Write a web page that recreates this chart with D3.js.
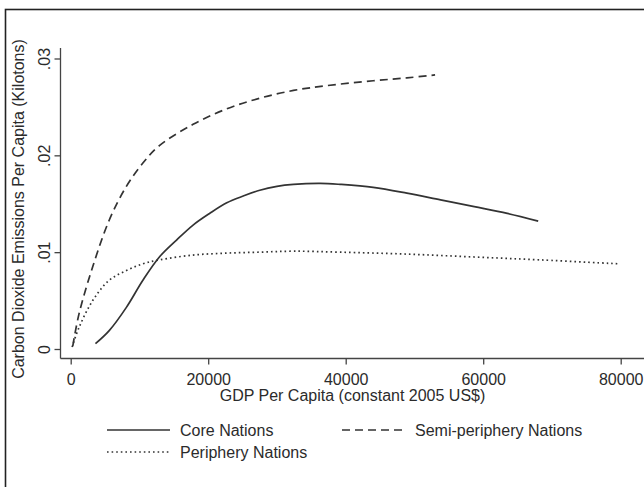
<!DOCTYPE html>
<html lang="en">
<head>
<meta charset="utf-8">
<script type="text/javascript" src="https://cdnjs.cloudflare.com/ajax/libs/d3/7.8.5/d3.min.js"></script>
<style>
    body { margin: 0; background: #fff; }
    text { font-family: "Liberation Sans", Arial, sans-serif; fill: #2b2b2b; }
</style>
</head>
<body>
<div id="container"></div>
<script type="text/javascript">
    var w = 644;
    var h = 487;

    // fitted curves
    var coreGdp = [3600, 5600, 8100, 10500, 12900, 15400, 17800, 20200, 22700, 25100, 27500, 30000, 32400, 36300, 39200, 44000, 48900, 53800, 58700, 63500, 68000];
    var coreVal = [0.00055, 0.0019, 0.0043, 0.0071, 0.0095, 0.01125, 0.0128, 0.0140, 0.0151, 0.0158, 0.0164, 0.0168, 0.0170, 0.0171, 0.0170, 0.0167, 0.0161, 0.0154, 0.0147, 0.0140, 0.0132];

    var semiGdp = [300, 1200, 3200, 5600, 8100, 10500, 12900, 17800, 22700, 27500, 32400, 37300, 44000, 48900, 53000];
    var semiVal = [0.0003, 0.0036, 0.0085, 0.0133, 0.0168, 0.0192, 0.0210, 0.0232, 0.0248, 0.0259, 0.0267, 0.0272, 0.0277, 0.0280, 0.0283];

    var periGdp = [200, 1200, 3200, 5600, 8100, 10500, 12900, 17800, 22700, 27500, 32400, 39200, 48900, 58700, 68400, 79600];
    var periVal = [0.0002, 0.0022, 0.0050, 0.0071, 0.0081, 0.0088, 0.0092, 0.0097, 0.0099, 0.0100, 0.0101, 0.0100, 0.0098, 0.0095, 0.0092, 0.0088];

    var xTicks = [0, 20000, 40000, 60000, 80000];
    var yTicks = [0, 0.01, 0.02, 0.03];
    var yTickLabels = ["0", ".01", ".02", ".03"];

    var seriesNames = ["Core Nations", "Semi-periphery Nations", "Periphery Nations"];
    var dashes = ["none", "8,5", "1.6,3"];

    var svg = d3.select("#container")
                .append("svg")
                .attr("width", w)
                .attr("height", h);

    // outer frame (cut off on right and bottom)
    svg.append("rect")
        .attr("x", 5.5).attr("y", 9.5)
        .attr("width", 700).attr("height", 600)
        .attr("fill", "none")
        .attr("stroke", "#222")
        .attr("stroke-width", 1.6);

    var xscale = d3.scaleLinear().domain([0, 80000]).range([70.7, 620.7]);
    var yscale = d3.scaleLinear().domain([0, 0.03]).range([349, 58.5]);

    var axisLeft = 60.5, axisBottom = 358.5;

    // axis lines
    svg.append("line")
        .attr("x1", axisLeft).attr("x2", axisLeft)
        .attr("y1", 48).attr("y2", axisBottom)
        .attr("stroke", "#444").attr("stroke-width", 1.3);
    svg.append("line")
        .attr("x1", axisLeft).attr("x2", 650)
        .attr("y1", axisBottom).attr("y2", axisBottom)
        .attr("stroke", "#444").attr("stroke-width", 1.3);

    var yAxis = svg.append("g")
        .attr("transform", "translate(" + axisLeft + ",0)")
        .call(d3.axisLeft(yscale)
            .tickValues(yTicks)
            .tickSize(6)
            .tickSizeOuter(0)
            .tickFormat(function(d, i) { return yTickLabels[i]; }));
    yAxis.select(".domain").remove();
    yAxis.selectAll("line").attr("stroke", "#444").attr("stroke-width", 1.3);
    yAxis.selectAll("text")
        .attr("x", 0).attr("dy", 0)
        .attr("transform", "translate(-11,0) rotate(-90)")
        .attr("text-anchor", "middle")
        .attr("font-size", 16)
        .attr("font-family", null)
        .style("fill", "#2b2b2b");

    var xAxis = svg.append("g")
        .attr("transform", "translate(0," + axisBottom + ")")
        .call(d3.axisBottom(xscale)
            .tickValues(xTicks)
            .tickSize(6)
            .tickSizeOuter(0)
            .tickFormat(d3.format("d")));
    xAxis.select(".domain").remove();
    xAxis.selectAll("line").attr("stroke", "#444").attr("stroke-width", 1.3);
    xAxis.selectAll("text")
        .attr("y", 26).attr("dy", 0)
        .attr("font-size", 16)
        .attr("font-family", null)
        .style("fill", "#2b2b2b");

    // axis titles
    svg.append("text")
        .attr("x", 352.5).attr("y", 401)
        .attr("text-anchor", "middle")
        .attr("font-size", 16)
        .text("GDP Per Capita (constant 2005 US$)");

    svg.append("text")
        .attr("transform", "translate(24,209) rotate(-90)")
        .attr("text-anchor", "middle")
        .attr("font-size", 16)
        .text("Carbon Dioxide Emissions Per Capita (Kilotons)");

    // curves
    var line = d3.line()
        .x(function(d) { return xscale(d[0]); })
        .y(function(d) { return yscale(d[1]); })
        .curve(d3.curveCatmullRom.alpha(0.5));

    var series = [
        d3.zip(coreGdp, coreVal),
        d3.zip(semiGdp, semiVal),
        d3.zip(periGdp, periVal)
    ];

    svg.selectAll("path.curve")
        .data(series)
        .enter()
        .append("path")
        .attr("class", "curve")
        .attr("d", line)
        .attr("fill", "none")
        .attr("stroke", "#333")
        .attr("stroke-width", 1.7)
        .attr("stroke-dasharray", function(d, i) { return dashes[i]; });

    // legend
    var legendPos = [[107, 430], [342, 430], [107, 452]];
    var legend = svg.selectAll("g.legend")
        .data(seriesNames)
        .enter()
        .append("g")
        .attr("class", "legend")
        .attr("transform", function(d, i) {
            return "translate(" + legendPos[i][0] + "," + legendPos[i][1] + ")";
        });

    legend.append("line")
        .attr("x1", 0).attr("x2", 63)
        .attr("y1", 0).attr("y2", 0)
        .attr("stroke", "#333")
        .attr("stroke-width", 1.7)
        .attr("stroke-dasharray", function(d, i) { return dashes[i]; });

    legend.append("text")
        .attr("x", 73).attr("y", 6)
        .attr("font-size", 16)
        .text(function(d) { return d; });

</script>
</body>
</html>
